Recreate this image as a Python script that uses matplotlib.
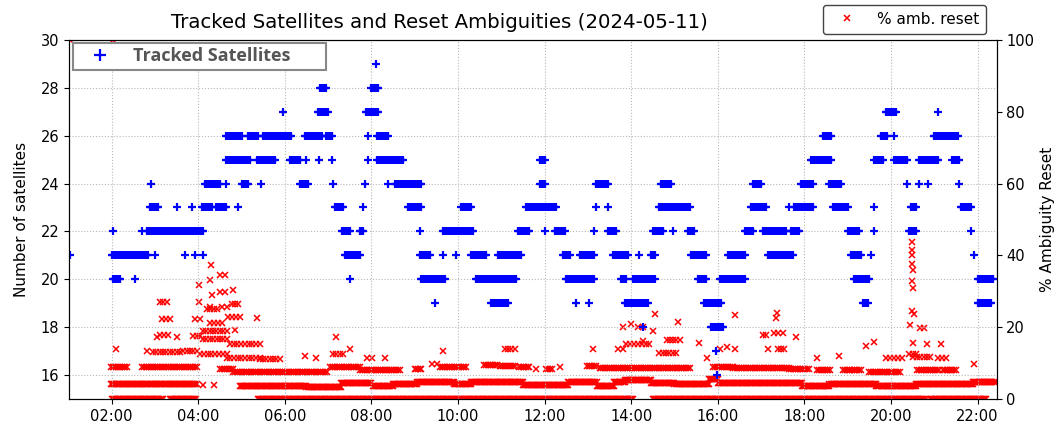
import numpy as np
import matplotlib
matplotlib.use("Agg")
import matplotlib.pyplot as plt

# spacing of epochs inside a run (hours)
STEP_DENSE = 1.5 / 60
STEP_MID = 2.5 / 60
STEP_SPARSE = 5.0 / 60

TITLE = "Tracked Satellites and Reset Ambiguities (2024-05-11)"
TICK_HOURS = [2, 4, 6, 8, 10, 12, 14, 16, 18, 20, 22]
TICK_LABELS = ["02:00", "04:00", "06:00", "08:00", "10:00", "12:00",
               "14:00", "16:00", "18:00", "20:00", "22:00"]
SAT_TICKS = [16, 18, 20, 22, 24, 26, 28, 30]
PCT_TICKS = [0, 20, 40, 60, 80, 100]

# tracked satellites, (start h, end h, count)
SAT_RUNS = [
    (15.99, 15.99, 16), (15.96, 15.96, 17),
    (14.27, 14.27, 18), (15.84, 16.12, 18),
    (9.46, 9.46, 19), (10.77, 11.15, 19), (12.73, 12.73, 19), (13.02, 13.02, 19),
    (13.85, 14.38, 19), (15.69, 16.08, 19), (19.35, 19.46, 19), (22.0, 22.31, 19),
    (2.03, 2.19, 20), (2.54, 2.54, 20), (7.50, 7.50, 20), (9.15, 9.69, 20),
    (10.42, 11.35, 20), (12.50, 13.15, 20), (13.77, 13.88, 20), (14.04, 14.54, 20),
    (15.54, 15.73, 20), (16.04, 16.62, 20), (19.15, 19.50, 20), (22.0, 22.35, 20),
    (1.04, 1.04, 21), (2.0, 2.85, 21), (3.0, 3.0, 21), (3.69, 3.69, 21),
    (3.92, 3.92, 21), (4.10, 4.10, 21), (7.38, 7.73, 21), (9.12, 9.35, 21),
    (9.65, 9.65, 21), (9.96, 9.96, 21), (10.31, 10.65, 21), (10.92, 11.46, 21),
    (12.42, 12.58, 21), (12.81, 13.15, 21), (13.58, 13.92, 21), (14.19, 14.19, 21),
    (14.46, 14.54, 21), (15.39, 15.73, 21), (16.23, 16.62, 21), (17.15, 17.73, 21),
    (19.08, 19.31, 21), (19.54, 19.54, 21), (21.92, 21.92, 21),
    (2.02, 2.02, 22), (2.69, 2.69, 22), (2.81, 4.11, 22), (7.31, 7.50, 22),
    (7.73, 7.81, 22), (9.12, 9.12, 22), (9.65, 10.35, 22), (11.38, 11.65, 22),
    (12.0, 12.0, 22), (12.23, 12.46, 22), (13.15, 13.15, 22), (13.46, 13.65, 22),
    (14.50, 14.73, 22), (14.96, 14.96, 22), (15.31, 15.46, 22), (16.62, 16.81, 22),
    (17.04, 17.58, 22), (17.69, 17.88, 22), (19.0, 19.27, 22), (19.62, 19.62, 22),
    (20.42, 20.58, 22), (21.85, 21.85, 22),
    (2.88, 3.07, 23), (3.50, 3.50, 23), (3.85, 3.85, 23), (4.08, 4.31, 23),
    (4.42, 4.65, 23), (4.91, 4.91, 23), (7.15, 7.35, 23), (7.81, 7.81, 23),
    (8.85, 9.15, 23), (10.08, 10.31, 23), (11.58, 12.27, 23), (13.19, 13.19, 23),
    (13.46, 13.46, 23), (14.65, 15.35, 23), (16.77, 17.12, 23), (17.65, 17.65, 23),
    (17.77, 18.19, 23), (18.65, 19.0, 23), (19.62, 19.62, 23), (20.46, 20.58, 23),
    (21.62, 21.85, 23),
    (2.90, 2.90, 24), (4.15, 4.50, 24), (4.63, 4.63, 24), (5.0, 5.15, 24),
    (5.46, 5.46, 24), (6.35, 6.54, 24), (7.11, 7.11, 24), (7.85, 7.85, 24),
    (8.38, 8.38, 24), (8.54, 9.15, 24), (11.89, 12.0, 24), (13.19, 13.46, 24),
    (14.69, 14.92, 24), (16.81, 17.0, 24), (17.92, 18.19, 24), (18.58, 18.85, 24),
    (20.38, 20.38, 24), (20.65, 20.65, 24), (20.85, 20.85, 24), (21.58, 21.58, 24),
    (4.65, 5.19, 25), (5.35, 5.77, 25), (6.11, 6.35, 25), (6.50, 6.50, 25),
    (6.79, 6.79, 25), (7.08, 7.08, 25), (7.92, 7.92, 25), (8.12, 8.73, 25),
    (11.89, 12.0, 25), (18.15, 18.62, 25), (19.62, 19.81, 25), (20.08, 20.38, 25),
    (20.65, 21.08, 25), (21.42, 21.58, 25),
    (4.65, 5.0, 26), (5.15, 5.38, 26), (5.50, 6.15, 26), (6.46, 6.85, 26),
    (6.96, 7.08, 26), (7.92, 7.92, 26), (8.12, 8.38, 26), (18.42, 18.62, 26),
    (19.77, 19.92, 26), (20.08, 20.08, 26), (20.99, 21.54, 26),
    (5.95, 5.95, 27), (6.76, 6.99, 27), (7.88, 8.15, 27), (19.89, 20.12, 27),
    (21.08, 21.08, 27),
    (6.81, 6.96, 28), (8.0, 8.15, 28),
    (8.10, 8.10, 29),
]

# percentage of reset ambiguities, (start h, end h, percent)
RESET_ZERO = [
    (2.0, 3.18, 0), (3.34, 3.95, 0), (5.38, 14.05, 0), (14.5, 20.8, 0), (20.9, 22.2, 0),
]

RESET_LOW = [
    (1.98, 3.97, 4.1), (4.10, 4.10, 3.8), (4.36, 4.36, 3.8), (4.96, 6.5, 3.6),
    (6.5, 7.3, 3.4), (7.3, 8.0, 4.4), (8.03, 8.49, 3.5), (8.49, 9.05, 4.1),
    (9.05, 9.9, 4.6), (9.9, 10.3, 4.1), (10.3, 11.5, 4.6), (11.5, 12.55, 3.9),
    (12.55, 13.2, 4.6), (13.2, 13.6, 3.7), (13.6, 13.85, 4.6), (13.85, 14.45, 5.3),
    (14.45, 15.0, 4.4), (15.0, 15.8, 4.1), (15.8, 16.0, 5.5), (16.0, 17.95, 4.4),
    (17.95, 18.58, 3.7), (18.58, 19.66, 4.1), (19.66, 20.58, 3.7), (20.58, 21.9, 4.1),
    (21.9, 22.42, 4.6),
]

RESET_MID = [
    (1.98, 2.36, 9.0), (2.7, 3.97, 8.8), (4.5, 4.8, 8.2), (4.8, 6.97, 7.4),
    (7.04, 7.73, 8.8), (7.73, 8.65, 8.0), (9.0, 9.15, 8.4), (9.58, 10.19, 9.0),
    (10.6, 10.9, 9.5), (10.96, 11.31, 9.2), (11.42, 11.65, 8.8), (11.81, 11.81, 8.4),
    (12.04, 12.16, 8.4), (12.35, 12.35, 8.8), (12.97, 13.19, 9.2), (13.27, 15.35, 8.5),
    (15.9, 16.36, 9.0), (16.36, 17.65, 8.6), (17.65, 18.1, 8.4), (18.3, 18.6, 8.0),
    (18.9, 19.3, 8.0), (19.5, 20.2, 7.6), (20.6, 21.1, 8.0), (21.2, 21.5, 8.0),
]

RESET_HIGH = [
    (1.04, 1.04, 100), (2.03, 2.03, 100),
    (2.10, 2.10, 13.9), (2.81, 2.81, 13.4), (2.95, 3.58, 13.1), (3.65, 3.97, 13.4),
    (4.04, 4.66, 12.5), (4.66, 5.42, 11.5), (5.42, 5.88, 11.0), (6.46, 6.46, 12.0),
    (6.73, 6.73, 11.3), (7.19, 7.19, 17.1), (7.50, 7.50, 14.0), (7.11, 7.34, 12.5),
    (3.04, 3.04, 17.1), (3.11, 3.30, 17.8), (3.50, 3.50, 17.1), (3.88, 4.04, 17.5),
    (4.11, 4.66, 16.8), (4.73, 5.42, 15.4),
    (3.16, 3.35, 22.3), (3.92, 4.04, 22.3), (4.27, 4.55, 21.0), (4.69, 4.96, 22.7),
    (5.35, 5.35, 22.5), (4.85, 4.85, 19.3), (4.10, 4.66, 19.0),
    (3.11, 3.28, 26.9), (4.02, 4.02, 26.9), (4.27, 4.27, 25.5), (4.20, 4.43, 25.0),
    (4.55, 4.66, 25.7), (4.78, 4.92, 26.5),
    (4.31, 4.31, 29.0), (4.50, 4.50, 29.9), (4.62, 4.62, 29.9), (4.81, 4.81, 30.4),
    (4.02, 4.02, 31.8), (4.27, 4.27, 33.0), (4.50, 4.62, 34.5), (4.30, 4.30, 37.3),
    (7.90, 8.01, 11.5), (8.31, 8.31, 11.5), (9.39, 9.51, 9.8), (9.65, 9.65, 13.4),
    (11.08, 11.31, 13.9), (13.11, 13.11, 13.9), (13.70, 13.82, 13.9),
    (13.81, 13.81, 19.9), (14.0, 14.0, 20.8), (14.15, 14.27, 20.0), (14.54, 14.54, 23.5),
    (14.5, 14.5, 19.0), (13.89, 14.42, 15.4), (14.27, 14.27, 16.2), (14.65, 15.04, 12.8),
    (14.82, 15.12, 16.5), (15.09, 15.09, 21.3),
    (15.57, 15.57, 15.5), (15.76, 15.76, 11.5), (16.05, 16.05, 13.9), (16.21, 16.21, 14.5),
    (16.40, 16.40, 23.4), (16.40, 16.40, 14.0), (17.04, 17.11, 17.9), (17.15, 17.18, 14.0),
    (17.35, 17.35, 22.5), (17.37, 17.37, 24.0), (17.30, 17.50, 18.4), (17.39, 17.53, 14.0),
    (17.80, 17.80, 17.1), (18.30, 18.30, 11.4), (18.81, 18.81, 12.0), (19.42, 19.42, 14.8),
    (19.62, 19.62, 15.7), (19.89, 20.26, 11.3), (20.42, 20.58, 12.6),
    (20.49, 20.49, 43.7), (20.48, 20.48, 41.5), (20.49, 20.49, 40.0), (20.48, 20.48, 37.5),
    (20.51, 20.51, 36.0), (20.49, 20.49, 32.8), (20.51, 20.51, 31.0), (20.48, 20.48, 24.6),
    (20.53, 20.53, 23.7), (20.45, 20.45, 20.7), (20.66, 20.77, 19.8), (20.52, 20.52, 15.6),
    (20.84, 20.84, 15.4), (20.52, 20.91, 11.7), (21.15, 21.15, 15.4), (21.08, 21.27, 11.4),
    (21.38, 21.38, 8.0), (21.92, 21.92, 9.7),
]


def expand(runs, step):
    hours, values = [], []
    for start, end, value in runs:
        n = int(round((end - start) / step)) + 1
        hours.extend(np.linspace(start, end, n))
        values.extend([value] * n)
    return np.array(hours), np.array(values)


sat_t, sat_n = expand(SAT_RUNS, STEP_DENSE)
parts = [expand(RESET_ZERO, STEP_DENSE), expand(RESET_LOW, STEP_DENSE),
         expand(RESET_MID, STEP_MID), expand(RESET_HIGH, STEP_SPARSE)]
reset_t = np.concatenate([p[0] for p in parts])
reset_p = np.concatenate([p[1] for p in parts])

fig = plt.figure(figsize=(10.62, 4.28), dpi=100)
ax = fig.add_axes([0.065, 0.0682, 0.8734, 0.8383])
ax2 = ax.twinx()

ax2.plot(reset_t, reset_p, "x", color="red", markersize=4.2, markeredgewidth=1.1,
         label="% amb. reset")
ax.plot(sat_t, sat_n, "+", color="blue", markersize=5.5, markeredgewidth=1.6,
        label="Tracked Satellites")

# satellites drawn above the reset markers
ax.set_zorder(ax2.get_zorder() + 1)
ax.patch.set_visible(False)

ax.set_xlim(1.015, 22.44)
ax.set_ylim(15, 30)
ax2.set_ylim(0, 100)
ax.set_xticks(TICK_HOURS)
ax.set_xticklabels(TICK_LABELS)
ax.set_yticks(SAT_TICKS)
ax2.set_yticks(PCT_TICKS)
ax.tick_params(labelsize=10.5)
ax2.tick_params(labelsize=10.5)
ax.grid(True, linestyle=":", color="#b8b8b8", linewidth=0.8)

ax.set_ylabel("Number of satellites", fontsize=11, labelpad=8)
ax2.set_ylabel("% Ambiguity Reset", fontsize=11)
ax.text(0.399, 1.05, TITLE, transform=ax.transAxes, ha="center", va="center",
        fontsize=14.2)

leg1 = ax.legend(loc="upper left", bbox_to_anchor=(0.0043, 0.905, 0.2728, 0.087),
                 mode="expand", borderaxespad=0, fancybox=False, framealpha=1,
                 edgecolor="#888888", markerscale=1.5, handlelength=2.45,
                 handletextpad=0.6, borderpad=0.25,
                 prop={"family": "Open Sans", "weight": "bold", "size": 13})
leg1.get_frame().set_linewidth(1.5)
for txt in leg1.get_texts():
    txt.set_color("#555555")

leg2 = ax2.legend(loc="upper right", bbox_to_anchor=(0.989, 1.098), borderaxespad=0,
                  fancybox=True, framealpha=1, edgecolor="#444444", fontsize=11,
                  handlelength=2.3, handletextpad=0.8, borderpad=0.45)

fig.savefig("out.png", dpi=100)
